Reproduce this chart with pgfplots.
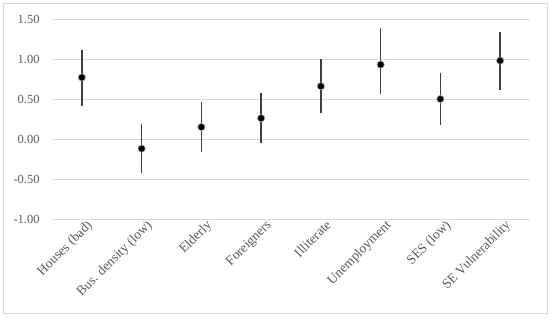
\documentclass[border=0pt]{standalone}
\usepackage{pgfplots}
\pgfplotsset{compat=1.18}
\usepackage{pgfplotstable}
\usepackage{fontspec}
\setmainfont{Liberation Serif}
\definecolor{txtc}{HTML}{595959}
\definecolor{gridc}{HTML}{D9D9D9}
\definecolor{barc}{HTML}{404040}
\definecolor{framec}{HTML}{D9D9D9}
\pgfplotstableread{
x y ep em
0 0.77 0.34 0.36
1 -0.12 0.31 0.31
2 0.15 0.31 0.31
3 0.26 0.31 0.31
4 0.66 0.34 0.33
5 0.93 0.46 0.37
6 0.50 0.32 0.32
7 0.98 0.36 0.37
}\data
\begin{document}
\begin{tikzpicture}
\begin{axis}[
  scale only axis,
  width=478bp, height=200bp,
  xmin=-0.5, xmax=7.5,
  ymin=-1, ymax=1.5,
  ytick={-1,-0.5,0,0.5,1,1.5},
  xtick={0,...,7},
  xticklabels={Houses (bad),Bus. density (low),Elderly,Foreigners,Illiterate,Unemployment,SES (low),SE Vulnerability},
  x tick label style={rotate=45, anchor=north east, inner sep=1pt, xshift=4bp, yshift=-2bp, font=\fontsize{13.5}{15}\selectfont},
  y tick label style={xshift=-9bp, font=\fontsize{12.5}{14}\selectfont},
  axis line style={draw=none},
  tick style={draw=none},
  ymajorgrids, xmajorgrids=false, major grid style={draw=gridc, line width=0.8bp},
  tick label style={text=txtc},
  /pgf/number format/.cd, fixed, fixed zerofill, precision=2, assume math mode=true,
]
\addplot[only marks, mark=*, mark size=3.6bp,
  mark options={fill=black, draw=black!40, line width=0.6bp},
  error bars/.cd, y dir=both, y explicit,
  error mark=none,
  error bar style={draw=barc, line width=1.5bp}]
  table[x=x, y=y, y error plus=ep, y error minus=em] {\data};
\end{axis}
\path[use as bounding box] ([xshift=-52bp, yshift=-101bp]current axis.south west) rectangle ([xshift=20bp, yshift=19bp]current axis.north east);
\draw[framec, line width=0.8bp] ([xshift=-49bp, yshift=-94bp]current axis.south west) rectangle ([xshift=17bp, yshift=16bp]current axis.north east);
\end{tikzpicture}
\end{document}
